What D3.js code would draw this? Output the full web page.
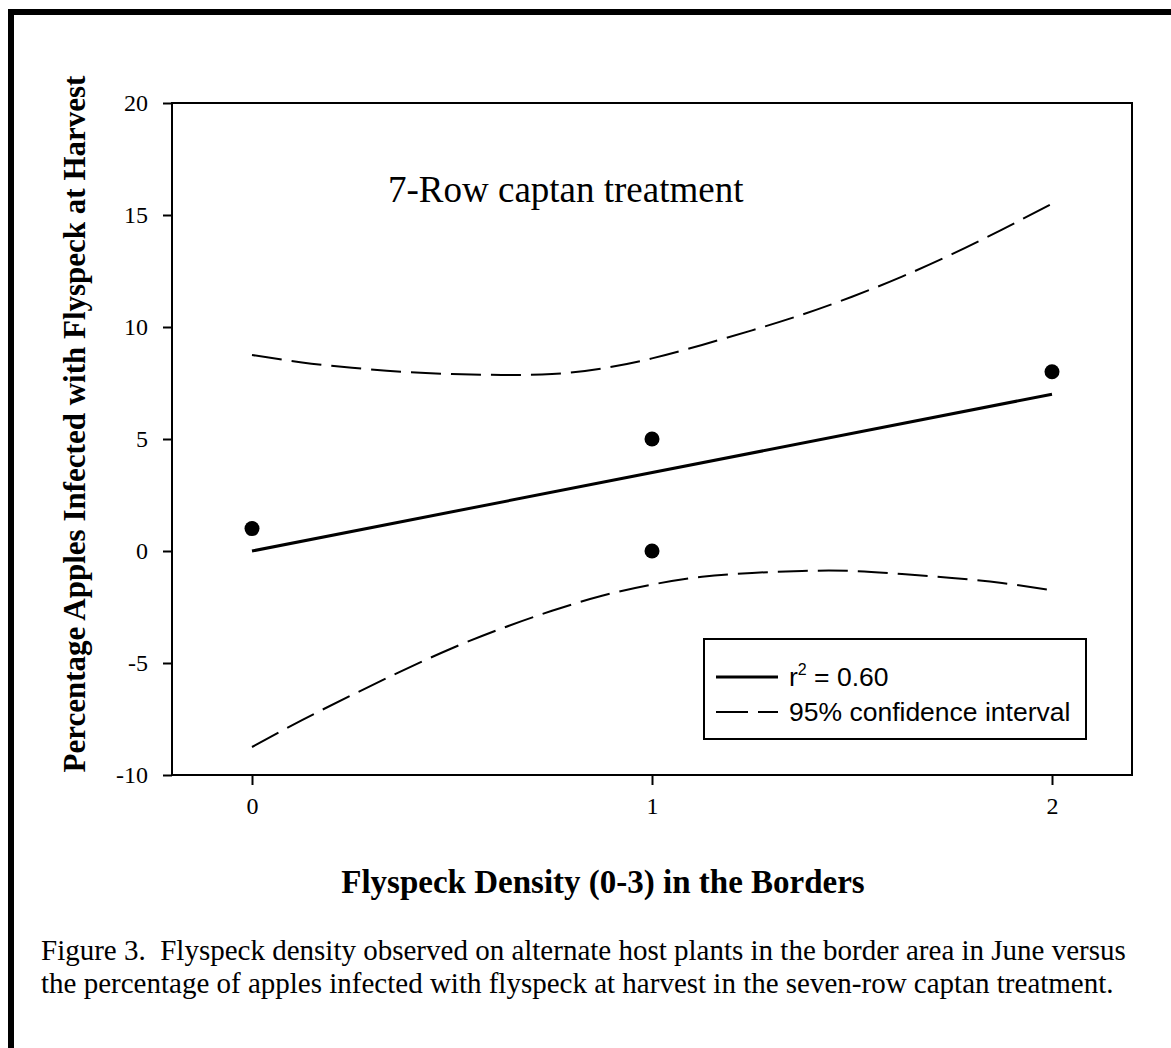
<!DOCTYPE html>
<html>
<head>
<meta charset="utf-8">
<script src="https://cdn.jsdelivr.net/npm/d3@7"></script>
<style>
  body { margin: 0; background: white; }
  svg { display: block; }
</style>
</head>
<body>
<div id="chart"></div>
<script>
// observed points
const densityX = [0, 1, 1, 2];
const infectedY = [1, 5, 0, 8];

// fitted regression line (r2 = 0.60)
const fitX = [0, 2];
const fitY = [0, 7];

// 95% confidence bands
const bandX = [0, 0.125, 0.25, 0.375, 0.5, 0.625, 0.75, 0.875, 1, 1.125, 1.25, 1.375, 1.5, 1.625, 1.75, 1.875, 2];
const upperY = [8.75, 8.42, 8.18, 8.0, 7.9, 7.86, 7.9, 8.15, 8.6, 9.2, 9.85, 10.55, 11.35, 12.25, 13.25, 14.35, 15.5];
const lowerY = [-8.75, -7.55, -6.43, -5.35, -4.34, -3.45, -2.67, -2.0, -1.5, -1.15, -0.98, -0.89, -0.89, -1.03, -1.2, -1.43, -1.75];

const xTicks = [0, 1, 2];
const yTicks = [-10, -5, 0, 5, 10, 15, 20];

const W = 1171, H = 1048;
const margin = {top: 103, right: 39, bottom: 273, left: 172};

const svg = d3.select("#chart").append("svg")
    .attr("width", W)
    .attr("height", H);

// outer figure frame (clipped by page edge on right and bottom)
svg.append("rect")
    .attr("x", 11).attr("y", 12)
    .attr("width", 1200).attr("height", 1100)
    .attr("fill", "none")
    .attr("stroke", "black")
    .attr("stroke-width", 6);

const x = d3.scaleLinear().domain([-0.2, 2.2]).range([margin.left, W - margin.right]);
const y = d3.scaleLinear().domain([-10, 20]).range([H - margin.bottom, margin.top]);

const serif = "'Liberation Serif', 'Times New Roman', serif";
const sans = "'Liberation Sans', Arial, sans-serif";

// plot box
svg.append("rect")
    .attr("x", x(-0.2)).attr("y", y(20))
    .attr("width", x(2.2) - x(-0.2)).attr("height", y(-10) - y(20))
    .attr("fill", "none")
    .attr("stroke", "black")
    .attr("stroke-width", 2);

// axes
const yAxis = svg.append("g")
    .attr("transform", `translate(${x(-0.2)},0)`)
    .call(d3.axisLeft(y).tickValues(yTicks).tickFormat(d => String(d))
        .tickSize(9).tickPadding(15).tickSizeOuter(0));

const xAxis = svg.append("g")
    .attr("transform", `translate(0,${y(-10)})`)
    .call(d3.axisBottom(x).tickValues(xTicks).tickFormat(d => String(d))
        .tickSize(10).tickPadding(12).tickSizeOuter(0));

[xAxis, yAxis].forEach(a => {
    a.select(".domain").remove();
    a.selectAll(".tick line").attr("stroke", "black").attr("stroke-width", 2);
    a.selectAll(".tick text")
        .attr("fill", "black")
        .style("font-family", serif)
        .style("font-size", "24px");
});
xAxis.selectAll(".tick text").attr("dy", "0.71em");

// confidence bands
const bandLine = d3.line().curve(d3.curveNatural);
[upperY, lowerY].forEach(vals => {
    svg.append("path")
        .attr("d", bandLine(bandX.map((v, i) => [x(v), y(vals[i])])))
        .attr("fill", "none")
        .attr("stroke", "black")
        .attr("stroke-width", 2)
        .attr("stroke-dasharray", "30,10");
});

// regression line
svg.append("path")
    .attr("d", d3.line()(fitX.map((v, i) => [x(v), y(fitY[i])])))
    .attr("fill", "none")
    .attr("stroke", "black")
    .attr("stroke-width", 3);

// points
svg.selectAll(".pt")
    .data(densityX.map((v, i) => ({x: v, y: infectedY[i]})))
    .enter().append("circle")
    .attr("class", "pt")
    .attr("cx", d => x(d.x))
    .attr("cy", d => y(d.y))
    .attr("r", 7.5)
    .attr("fill", "black");

// inset title
svg.append("text")
    .attr("x", 388).attr("y", 202)
    .style("font-family", serif)
    .style("font-size", "37px")
    .text("7-Row captan treatment");

// legend
const lg = svg.append("g").attr("transform", "translate(704,639)");
lg.append("rect")
    .attr("width", 382).attr("height", 100)
    .attr("fill", "white")
    .attr("stroke", "black")
    .attr("stroke-width", 2);
lg.append("line")
    .attr("x1", 12).attr("x2", 74).attr("y1", 38).attr("y2", 38)
    .attr("stroke", "black").attr("stroke-width", 3);
lg.append("line")
    .attr("x1", 12).attr("x2", 74).attr("y1", 73).attr("y2", 73)
    .attr("stroke", "black").attr("stroke-width", 2)
    .attr("stroke-dasharray", "32,10");
const r2 = lg.append("text")
    .attr("x", 85).attr("y", 47)
    .style("font-family", sans)
    .style("font-size", "26.5px");
r2.append("tspan").text("r");
r2.append("tspan").attr("dy", -11).style("font-size", "16px").text("2");
r2.append("tspan").attr("dy", 11).text(" = 0.60");
lg.append("text")
    .attr("x", 85).attr("y", 82)
    .style("font-family", sans)
    .style("font-size", "26.5px")
    .text("95% confidence interval");

// axis titles
svg.append("text")
    .attr("transform", "translate(85,424) rotate(-90)")
    .attr("text-anchor", "middle")
    .style("font-family", serif)
    .style("font-weight", "bold")
    .style("font-size", "31px")
    .text("Percentage Apples Infected with Flyspeck at Harvest");

svg.append("text")
    .attr("x", 603).attr("y", 893)
    .attr("text-anchor", "middle")
    .style("font-family", serif)
    .style("font-weight", "bold")
    .style("font-size", "33px")
    .text("Flyspeck Density (0-3) in the Borders");

// caption
const captionLines = [
    "Figure 3.  Flyspeck density observed on alternate host plants in the border area in June versus",
    "the percentage of apples infected with flyspeck at harvest in the seven-row captan treatment."
];
svg.selectAll(".cap")
    .data(captionLines)
    .enter().append("text")
    .attr("class", "cap")
    .attr("x", 41)
    .attr("y", (d, i) => 960 + i * 33)
    .attr("xml:space", "preserve")
    .style("white-space", "pre")
    .style("font-family", serif)
    .style("font-size", "29px")
    .text(d => d);
</script>
</body>
</html>
